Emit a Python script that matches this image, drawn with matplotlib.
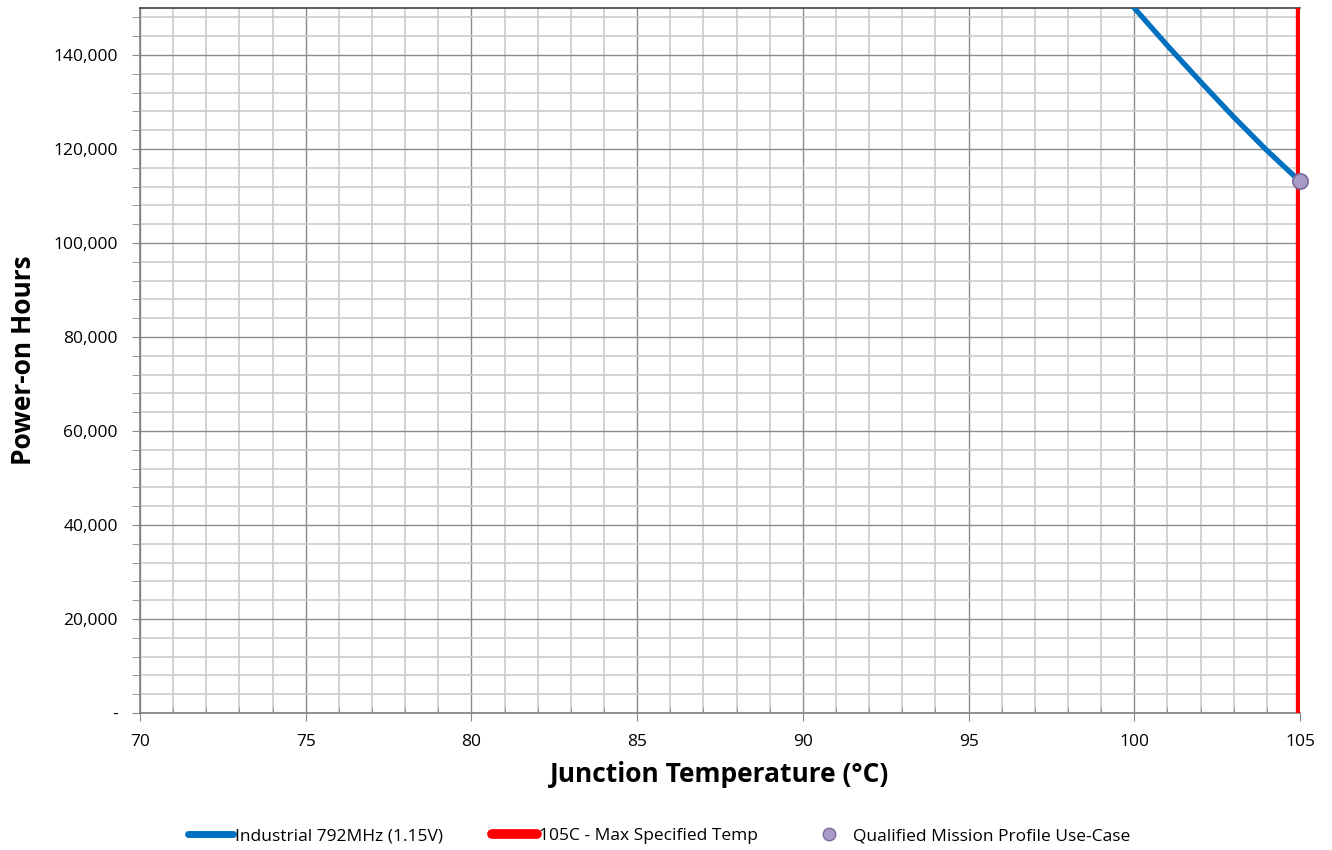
import matplotlib
matplotlib.use("Agg")
import matplotlib.pyplot as plt
from matplotlib.ticker import MultipleLocator, FuncFormatter
from matplotlib.lines import Line2D

temps = [100, 101, 102, 103, 104, 105]
hours = [150000, 142000, 134300, 126800, 119700, 113100]
max_temp = 105
use_case_temp = [105]
use_case_hours = [113100]

labels = ["Industrial 792MHz (1.15V)", "105C - Max Specified Temp", "Qualified Mission Profile Use-Case"]

plt.rcParams['font.family'] = ['Open Sans', 'DejaVu Sans']

fig = plt.figure(figsize=(13.32, 8.5), dpi=100)
ax = fig.add_axes([140/1332, 1-713/850, 1160/1332, 705/850])

ax.set_xlim(70, 105)
ax.set_ylim(0, 150000)
ax.xaxis.set_major_locator(MultipleLocator(5))
ax.xaxis.set_minor_locator(MultipleLocator(1))
ax.yaxis.set_major_locator(MultipleLocator(20000))
ax.yaxis.set_minor_locator(MultipleLocator(4000))
ax.grid(which='minor', color='#cccccc', lw=1.2, zorder=0)
ax.grid(which='major', color='#8c8c8c', lw=1.0, zorder=0)
ax.set_axisbelow(True)

ax.yaxis.set_major_formatter(FuncFormatter(lambda v, p: "-" if v == 0 else f"{int(v):,}"))
ax.tick_params(axis='both', which='major', labelsize=12.5, colors='#000000', length=6, color='#888888')
ax.tick_params(axis='y', which='minor', length=6, color='#888888', direction='out')
ax.tick_params(axis='x', which='minor', length=4, color='#888888', direction='in')
ax.tick_params(axis='y', which='major', pad=10)
ax.tick_params(axis='x', which='major', pad=9)

for s in ['left', 'bottom', 'top']:
    ax.spines[s].set_color('#7f7f7f')
    ax.spines[s].set_linewidth(1.2)
ax.spines['top'].set_color('#404040')
ax.spines['right'].set_visible(False)

ax.plot(temps, hours, color='#0070c0', lw=3.8, solid_capstyle='round', solid_joinstyle='round', zorder=3, clip_on=True)
ax.axvline(max_temp, color='#ff0000', lw=6, zorder=4)
ax.plot(use_case_temp, use_case_hours, 'o', ms=11, mfc='#a99bc8', mec='#7a6a9c', mew=1.2, zorder=5, clip_on=False)

ax.set_xlabel("Junction Temperature (°C)", fontsize=19, fontweight='bold', labelpad=8)
ax.set_ylabel("Power-on Hours", fontsize=19, fontweight='bold', labelpad=12)

handles = [
    Line2D([], [], color='#0070c0', lw=5, solid_capstyle='round'),
    Line2D([], [], color='#ff0000', lw=7, solid_capstyle='round'),
    Line2D([], [], ls='none', marker='o', ms=9, mfc='#a99bc8', mec='#7a6a9c'),
]
fig.legend(handles, labels, loc='center', bbox_to_anchor=(0.495, 1-836/850), ncol=3,
           frameon=False, fontsize=12.5, handlelength=2.6, handletextpad=0.1, columnspacing=2.8)

fig.savefig("out.png", dpi=100)
